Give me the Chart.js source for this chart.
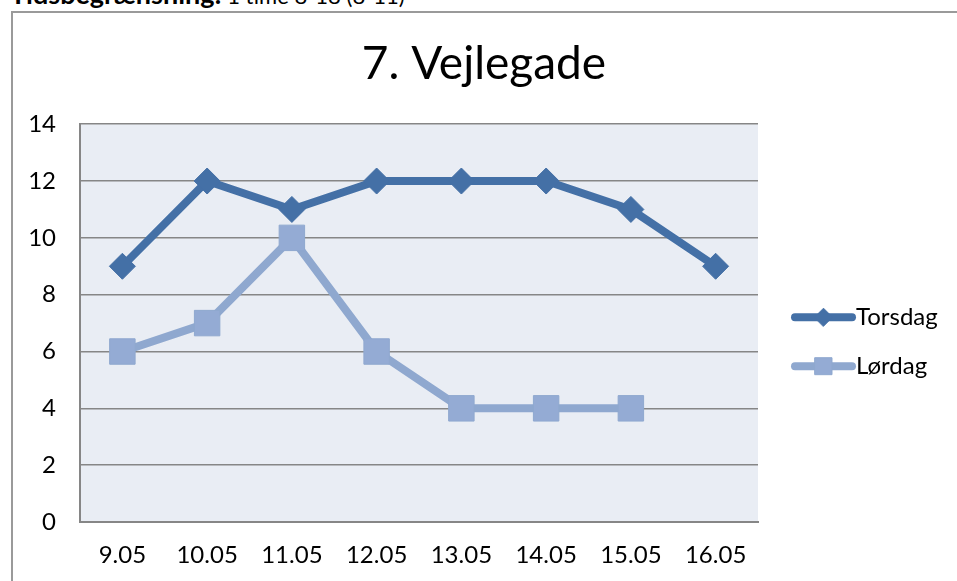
<!DOCTYPE html>
<html>
<head>
<meta charset="utf-8">
<script src="https://cdn.jsdelivr.net/npm/chart.js@4/dist/chart.umd.min.js"></script>
<style>
  html, body { margin: 0; padding: 0; background: #fff; overflow: hidden; width: 957px; height: 581px; }
  #wrap { position: relative; width: 957px; height: 581px; overflow: hidden; }
  #note { position: absolute; left: 10px; top: -21px; font-family: Lato, sans-serif; font-size: 22px; line-height: 30px; color: #000; white-space: nowrap; }
  #note b { font-size: 27px; }
  #frame { position: absolute; left: 11px; top: 11px; width: 1000px; height: 700px; border: 2px solid #9a9a9a; box-sizing: border-box; }
  #chart { position: absolute; left: 0; top: 0; }
</style>
</head>
<body>
<div id="wrap">
  <div id="note"><b>Tidsbegrænsning:</b> 1 time 8-18 (8-11)</div>
  <div id="frame"></div>
  <canvas id="chart" width="968" height="600"></canvas>
</div>
<script>
// Chart data
const chartTitle = '7. Vejlegade';
const dates = ['9.05', '10.05', '11.05', '12.05', '13.05', '14.05', '15.05', '16.05'];
const torsdag = [9, 12, 11, 12, 12, 12, 11, 9];
const lordag = [6, 7, 10, 6, 4, 4, 4, null];
const seriesNames = ['Torsdag', 'Lørdag'];

const FONT = 'Lato, "Open Sans", sans-serif';

// Fill the plot area background
const plotBackground = {
    id: 'plotBackground',
    beforeDraw(chart) {
        const { ctx, chartArea } = chart;
        ctx.save();
        ctx.fillStyle = '#e9edf4';
        ctx.fillRect(chartArea.left, chartArea.top, chartArea.right - chartArea.left, chartArea.bottom - chartArea.top);
        ctx.restore();
    }
};

// Excel style legend: line with marker in the middle
const lineLegend = {
    id: 'lineLegend',
    afterDraw(chart) {
        const { ctx, chartArea } = chart;
        const x0 = chartArea.right + 37;
        const x1 = x0 + 57;
        const rows = [chartArea.top + 193, chartArea.top + 242];
        const markerRadius = [9, 12];
        chart.data.datasets.forEach((ds, i) => {
            const y = rows[i];
            ctx.save();
            ctx.strokeStyle = ds.borderColor;
            ctx.lineWidth = ds.borderWidth;
            ctx.lineCap = 'round';
            ctx.beginPath();
            ctx.moveTo(x0, y);
            ctx.lineTo(x1, y);
            ctx.stroke();
            ctx.fillStyle = ds.pointBackgroundColor;
            ctx.strokeStyle = ds.pointBorderColor;
            ctx.lineWidth = 1;
            Chart.helpers.drawPoint(ctx, { pointStyle: ds.pointStyle, radius: markerRadius[i], rotation: 0, borderWidth: 1 }, (x0 + x1) / 2, y);
            ctx.fillStyle = '#000';
            ctx.font = '24px ' + FONT;
            ctx.textBaseline = 'middle';
            ctx.textAlign = 'left';
            ctx.fillText(ds.label, x1 + 4, y);
            ctx.restore();
        });
    }
};

new Chart(document.getElementById('chart'), {
    type: 'line',
    data: {
        labels: dates,
        datasets: [{
            label: seriesNames[0],
            data: torsdag,
            borderColor: '#4470a6',
            backgroundColor: '#4470a6',
            borderWidth: 8,
            borderCapStyle: 'round',
            borderJoinStyle: 'round',
            tension: 0,
            pointStyle: 'rectRot',
            pointRadius: 13,
            pointBackgroundColor: '#4470a6',
            pointBorderColor: '#4470a6',
            pointBorderWidth: 1
        }, {
            label: seriesNames[1],
            data: lordag,
            borderColor: '#8fa8cf',
            backgroundColor: '#94abd4',
            borderWidth: 8,
            borderCapStyle: 'round',
            borderJoinStyle: 'round',
            tension: 0,
            pointStyle: 'rect',
            pointRadius: 18,
            pointBackgroundColor: '#94abd4',
            pointBorderColor: '#8fa8cf',
            pointBorderWidth: 1
        }]
    },
    options: {
        responsive: false,
        animation: false,
        devicePixelRatio: 1,
        layout: { padding: { left: 0, right: 0, top: 12, bottom: 0 } },
        plugins: {
            legend: { display: false },
            tooltip: { enabled: false },
            title: {
                display: true,
                text: chartTitle,
                color: '#000',
                font: { family: FONT, size: 46, weight: 'normal', lineHeight: 1.2 },
                padding: { top: 25, bottom: 32 }
            }
        },
        scales: {
            x: {
                offset: true,
                grid: { display: false, drawTicks: false },
                border: { display: true, color: '#868686', width: 2 },
                ticks: { color: '#000', font: { family: FONT, size: 24 }, padding: 19, maxRotation: 0 },
                afterFit(scale) { scale.height = 78; }
            },
            y: {
                min: 0,
                max: 14,
                grid: { color: '#868686', lineWidth: 1.5, drawTicks: false },
                border: { display: true, color: '#868686', width: 2 },
                ticks: { stepSize: 2, color: '#000', font: { family: FONT, size: 24 }, padding: 24 },
                afterFit(scale) { scale.width = 80; }
            },
            spare: {
                type: 'linear',
                position: 'right',
                grid: { display: false },
                border: { display: false },
                ticks: { display: false },
                afterFit(scale) { scale.width = 210; }
            }
        }
    },
    plugins: [plotBackground, lineLegend]
});
</script>
</body>
</html>
